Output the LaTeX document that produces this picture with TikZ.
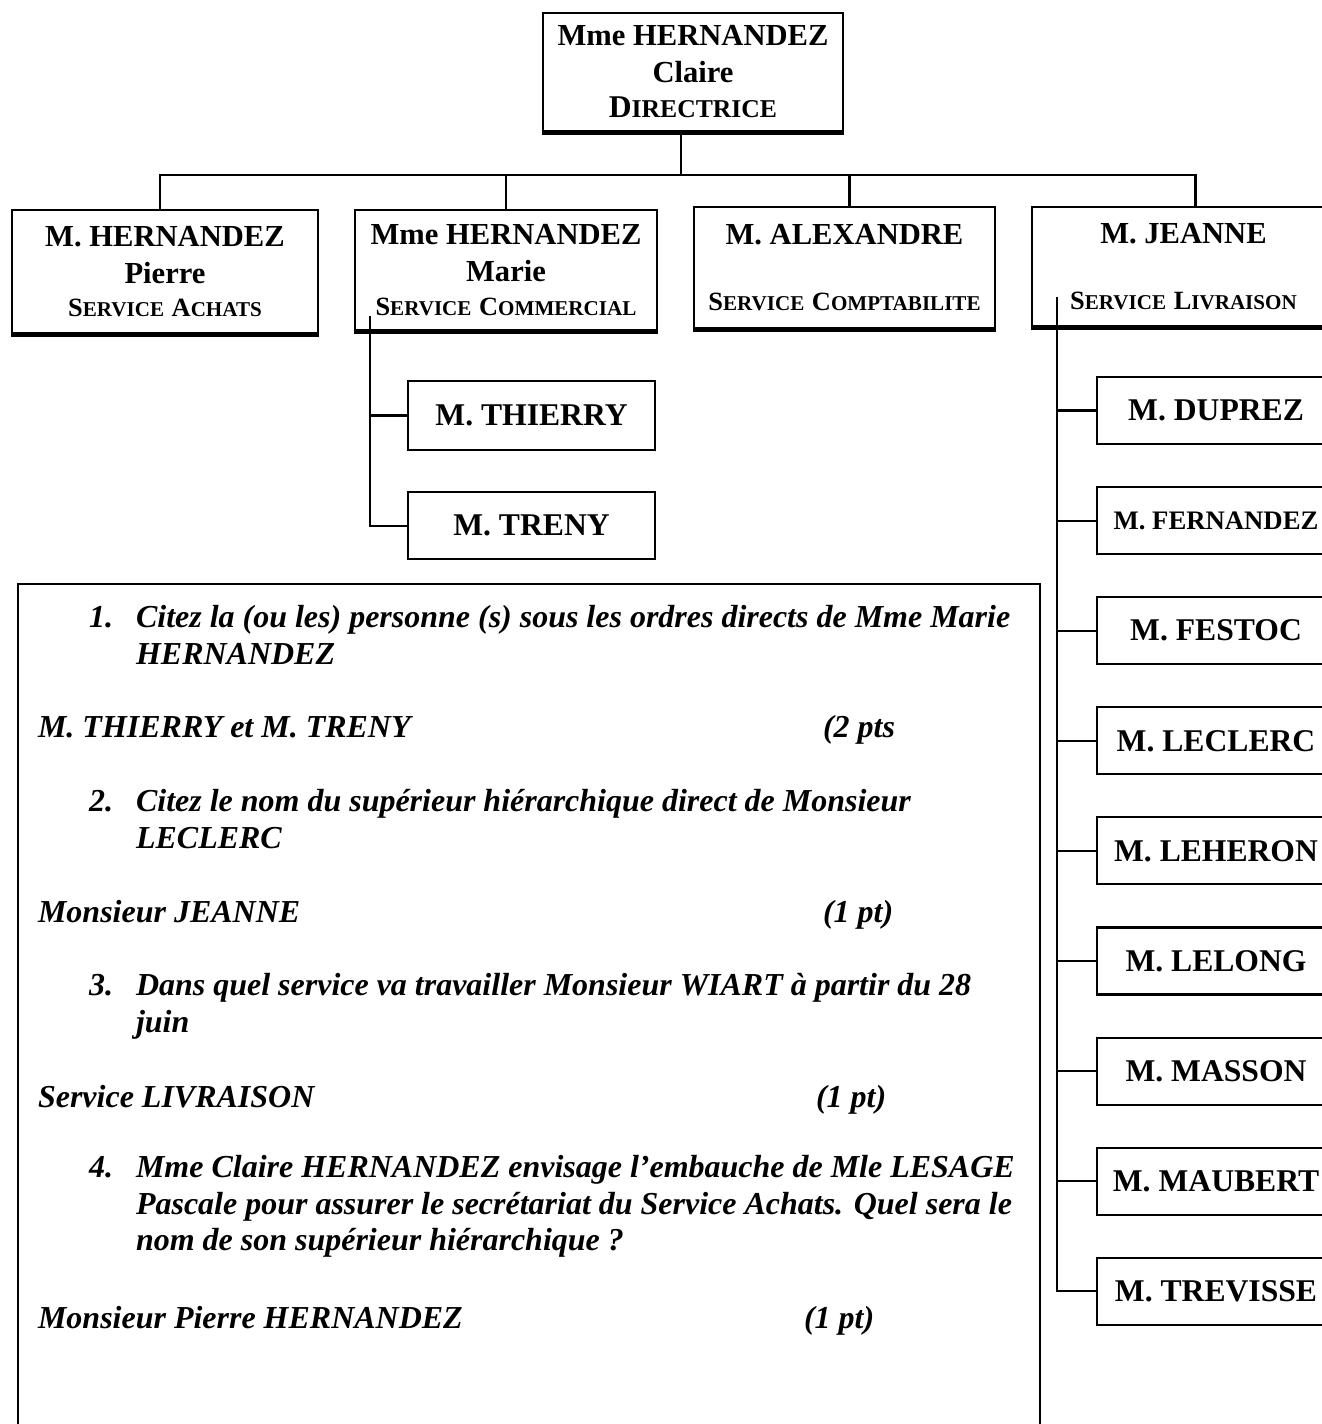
\documentclass[tikz,border=0pt]{standalone}
\usepackage{fontspec}
\setmainfont{Liberation Serif}
\usetikzlibrary{positioning}

% petites capitales faites a la main
\newcommand{\capg}[1]{{\fontsize{7.5}{9}\selectfont #1}}
\newcommand{\capp}[1]{{\fontsize{6}{9}\selectfont #1}}

\begin{document}
\begin{tikzpicture}[x=0.1mm,y=-0.1mm,line width=0.6pt,
  chef/.style={draw,rectangle,inner sep=0pt,align=center,font=\fontsize{8.7}{10.5}\selectfont\bfseries},
  agent/.style={draw,rectangle,inner sep=0pt,minimum width=23.8mm,minimum height=6.7mm,font=\fontsize{9}{10.5}\selectfont\bfseries},
  qtext/.style={anchor=base west,inner sep=0pt,font=\fontsize{9.1}{11}\selectfont\bfseries\itshape}]

\useasboundingbox (0,0) rectangle (1322,1424);

% direction
\node[chef,minimum width=30mm,minimum height=11.8mm] (dir) at (693,72) {Mme HERNANDEZ\\Claire\\[-0.5pt]{\fontsize{9}{9}\selectfont D\fontsize{7.3}{9}\selectfont IRECTRICE}};

% services
\node[chef,minimum width=30.6mm,minimum height=12.3mm] (achats) at (165,271.5) {M. HERNANDEZ\\Pierre\\[-1pt]\capg{S}\capp{ERVICE} \capg{A}\capp{CHATS}};
\node[chef,minimum width=30.2mm,minimum height=12mm] (commercial) at (506,270) {Mme HERNANDEZ\\Marie\\[-1pt]\capg{S}\capp{ERVICE} \capg{C}\capp{OMMERCIAL}};
\node[chef,minimum width=30.1mm,minimum height=12.1mm] (compta) at (844.5,267.5) {M. ALEXANDRE\\[-1pt]\mbox{}\\[-1pt]\capg{S}\capp{ERVICE} \capg{C}\capp{OMPTABILITE}};
\node[chef,minimum width=30.3mm,minimum height=11.9mm] (livraison) at (1183.5,266.5) {M. JEANNE\\[-1pt]\mbox{}\\[-1pt]\capg{S}\capp{ERVICE} \capg{L}\capp{IVRAISON}};

\foreach \n in {dir,achats,commercial,compta,livraison}
  \draw[line width=1.4pt] (\n.south west) -- (\n.south east);

% service commercial
\node[agent,minimum width=24.7mm,minimum height=6.9mm] (thierry) at (531.5,415.5) {M. THIERRY};
\node[agent,minimum width=24.7mm,below=4mm of thierry] (treny) {M. TRENY};

% service livraison
\node[agent] (duprez) at (1216,410.5) {M. DUPREZ};
\node[agent,below=4.1mm of duprez,font=\fontsize{7.6}{9}\selectfont\bfseries] (fernandez) {M. FERNANDEZ};
\node[agent,below=4.1mm of fernandez] (festoc) {M. FESTOC};
\node[agent,below=4.1mm of festoc] (leclerc) {M. LECLERC};
\node[agent,below=4.1mm of leclerc] (leheron) {M. LEHERON};
\node[agent,below=4.1mm of leheron] (lelong) {M. LELONG};
\node[agent,below=4.1mm of lelong] (masson) {M. MASSON};
\node[agent,below=4.1mm of masson] (maubert) {M. MAUBERT};
\node[agent,below=4.1mm of maubert] (trevisse) {M. TREVISSE};

% liaisons
\coordinate (bar) at (0,175);
\draw ([xshift=-1.2mm]dir.south) -- ([xshift=-1.2mm]dir.south |- bar);
\draw ([xshift=-0.5mm]achats.north) -- ([xshift=-0.5mm]achats.north |- bar) -- ([xshift=1.2mm]livraison.north |- bar) -- ([xshift=1.2mm]livraison.north);
\draw (commercial.north) -- (commercial.north |- bar);
\draw ([xshift=0.5mm]compta.north) -- ([xshift=0.5mm]compta.north |- bar);

\coordinate (ctop) at ([xshift=1.6mm,yshift=1.5mm]commercial.south west);
\draw (ctop) |- (treny.west);
\draw (ctop |- thierry.west) -- (thierry.west);

\coordinate (jtop) at ([xshift=2.6mm,yshift=3mm]livraison.south west);
\draw (jtop) |- (trevisse.west);
\foreach \n in {duprez,fernandez,festoc,leclerc,leheron,lelong,masson,maubert}
  \draw (jtop |- \n.west) -- (\n.west);

% questions
\draw (18,1440) -- (18,584) -- (1040,584) -- (1040,1440);

\node[qtext] (n1) at (88,627) {1.};
\node[qtext] (q1a) at (135,627) {Citez la (ou les) personne (s) sous les ordres directs de Mme Marie};
\node[qtext] (q1b) at (135,664) {HERNANDEZ};
\node[qtext] (r1) at (37,737) {M. THIERRY et M. TRENY};
\node[qtext] (p1) at (822,737) {(2 pts};

\node[qtext] (n2) at (88,811) {2.};
\node[qtext] (q2a) at (135,811) {Citez le nom du supérieur hiérarchique direct de Monsieur};
\node[qtext] (q2b) at (135,848) {LECLERC};
\node[qtext] (r2) at (37,922) {Monsieur JEANNE};
\node[qtext] (p2) at (822,922) {(1 pt)};

\node[qtext] (n3) at (88,995) {3.};
\node[qtext] (q3a) at (135,995) {Dans quel service va travailler Monsieur WIART à partir du 28};
\node[qtext] (q3b) at (135,1032) {juin};
\node[qtext] (r3) at (37,1107) {Service LIVRAISON};
\node[qtext] (p3) at (815,1107) {(1 pt)};

\node[qtext] (n4) at (88,1177) {4.};
\node[qtext] (q4a) at (135,1177) {Mme Claire HERNANDEZ envisage l’embauche de Mle LESAGE};
\node[qtext] (q4b) at (135,1214) {Pascale pour assurer le secrétariat du Service Achats. Quel sera le};
\node[qtext] (q4c) at (135,1250) {nom de son supérieur hiérarchique ?};
\node[qtext] (r4) at (37,1328) {Monsieur Pierre HERNANDEZ};
\node[qtext] (p4) at (803,1328) {(1 pt)};

\end{tikzpicture}
\end{document}
